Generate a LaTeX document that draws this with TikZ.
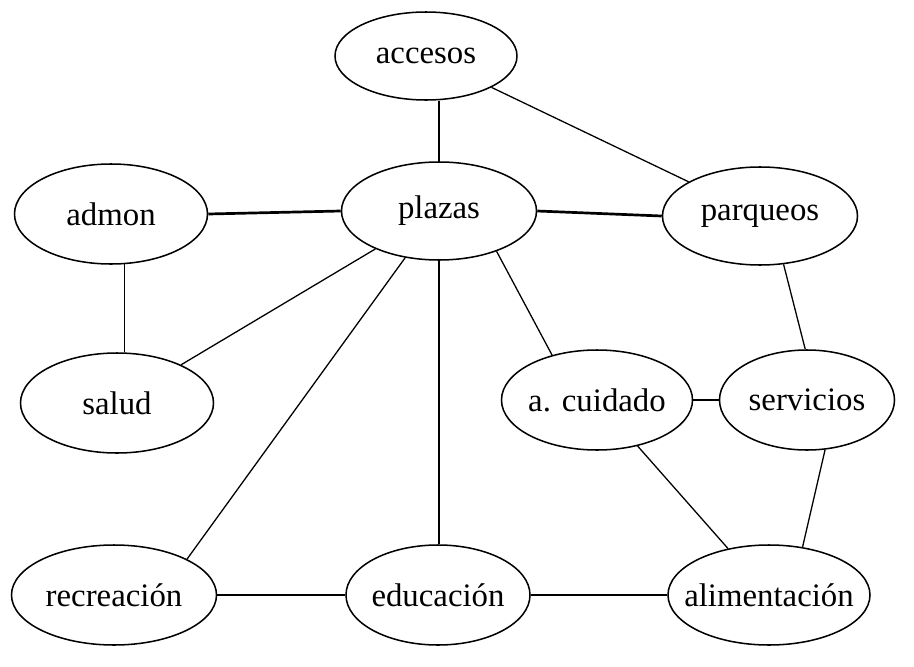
\documentclass[tikz,border=0pt]{standalone}
\usepackage{fontspec}
\setmainfont{Liberation Serif}
\usetikzlibrary{shapes.geometric}

\newcommand{\arealbl}[1]{\makebox[0pt]{#1}}

\begin{document}
\begin{tikzpicture}[
  x=0.03cm, y=-0.03cm,
  font=\fontsize{28}{32}\selectfont,
  area/.style={ellipse, draw=black, line width=1.3pt, inner sep=0pt,
               minimum height=3cm},
  link/.style={draw=black, line width=1.1pt},
  mainlink/.style={draw=black, line width=2.3pt},
]
\useasboundingbox (0,0) rectangle (914,667);

% --- areas ---
\node[area, minimum width=5.46cm, minimum height=2.64cm] (accesos) at (426,56) {\arealbl{accesos}};
\node[area, minimum width=5.85cm, minimum height=2.94cm] (plazas) at (439,211) {\arealbl{plazas}};
\node[area, minimum width=5.79cm] (admon) at (111,214) {\arealbl{admon}};
\node[area, minimum width=5.85cm, minimum height=2.94cm] (parqueos) at (760,216) {\arealbl{parqueos}};
\node[area, minimum width=5.79cm] (salud) at (117,403) {\arealbl{salud}};
\node[area, minimum width=5.73cm] (acuidado) at (597,400) {\arealbl{a. cuidado}};
\node[area, minimum width=5.25cm] (servicios) at (807,400) {\arealbl{servicios}};
\node[area, minimum width=6.15cm] (recreacion) at (114,595) {\arealbl{recreación}};
\node[area, minimum width=5.52cm] (educacion) at (438,595) {\arealbl{educación}};
\node[area, minimum width=6.06cm] (alimentacion) at (769,595) {\arealbl{alimentación}};

% --- main axes ---
\draw[mainlink] (admon.east) -- (plazas.west);
\draw[mainlink] (plazas.east) -- (parqueos.west);
\draw[mainlink] (recreacion.east) -- (educacion.west);
\draw[mainlink] (educacion.east) -- (alimentacion.west);

% --- other links ---
\draw[link] (plazas.north) -- (plazas.north |- accesos.south);
\draw[link] (accesos) -- (parqueos);
\draw[link] (admon.-75) -- (admon.-75 |- salud.north);
\draw[link] (plazas) -- (salud);
\draw[link] (plazas) -- (recreacion.north east);
\draw[link] (plazas.south) -- (plazas.south |- educacion.north);
\draw[link] (plazas.-35) -- (acuidado.135);
\draw[link] (parqueos.-64) -- (servicios.92);
\draw[link] (acuidado) -- (servicios);
\draw[link] (acuidado) -- (alimentacion);
\draw[link] (servicios.-70) -- (alimentacion.55);

\end{tikzpicture}
\end{document}
